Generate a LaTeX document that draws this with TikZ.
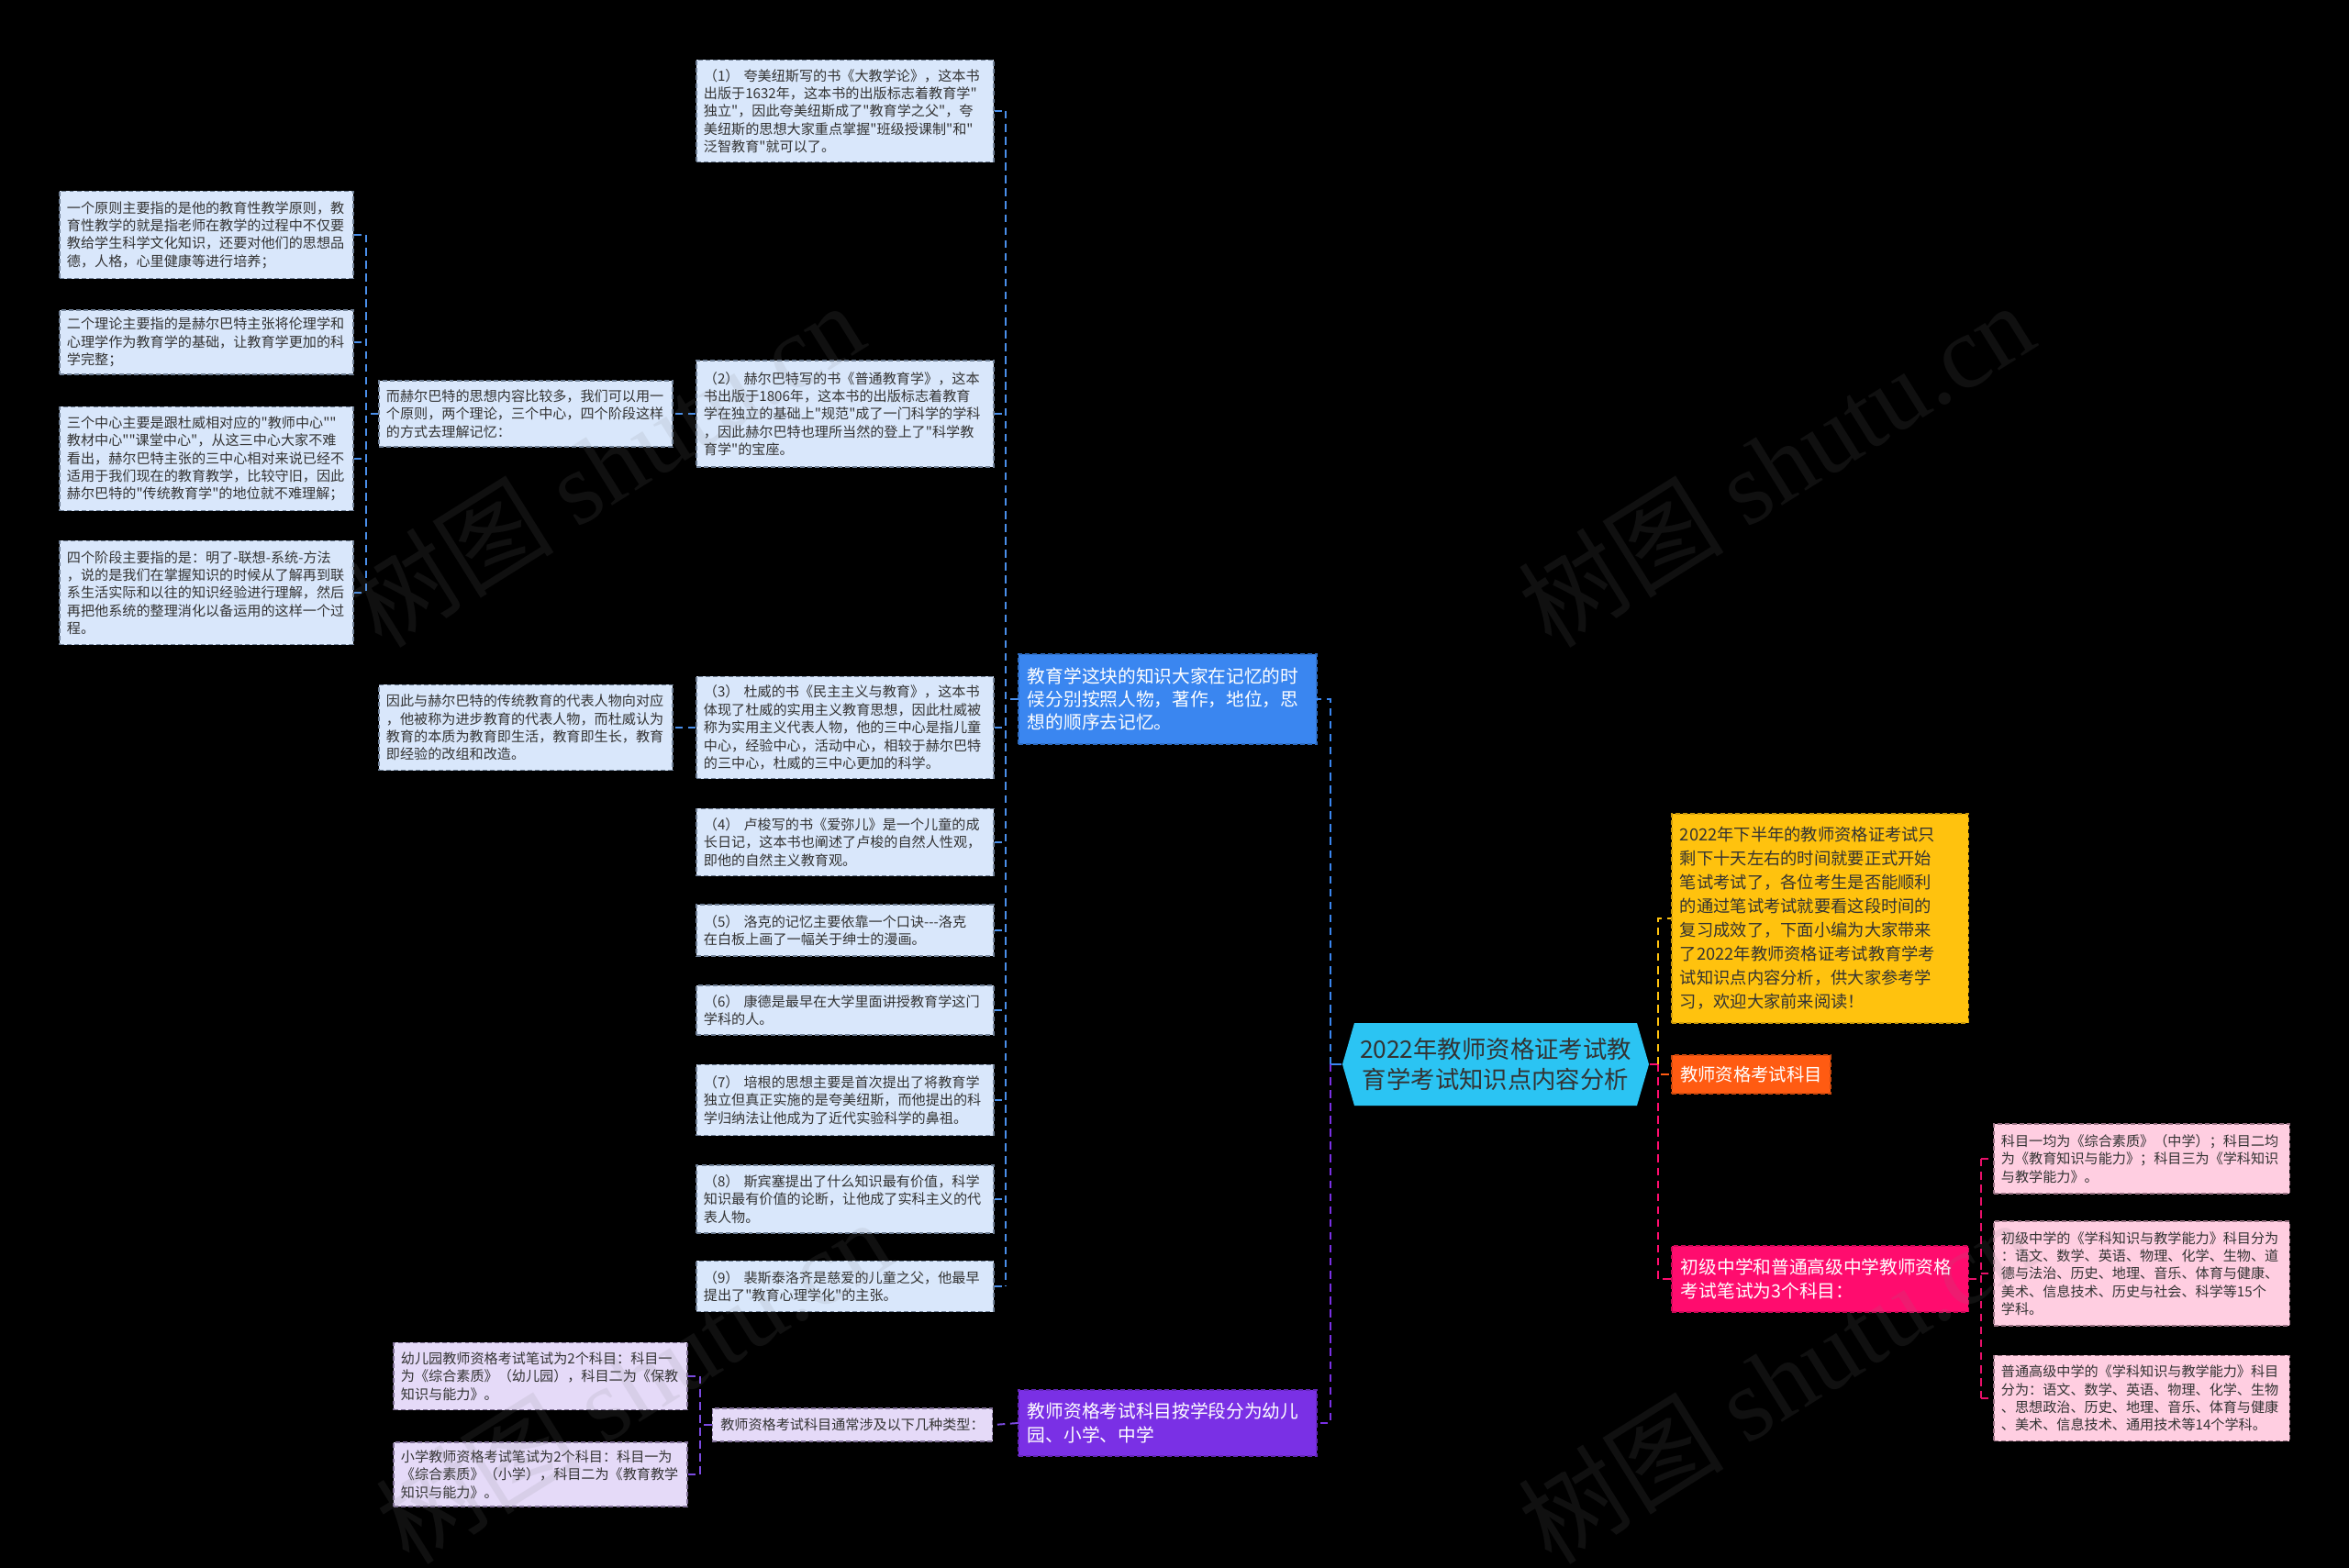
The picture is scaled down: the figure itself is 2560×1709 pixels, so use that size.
\documentclass[tikz,border=0pt]{standalone}
\usepackage{fontspec}
\setmainfont{Noto Sans CJK SC}[Ligatures=TeXOff]
\newfontfamily\wmfont{Liberation Serif}
\definecolor{ink}{HTML}{333333}
\definecolor{rootc}{HTML}{2BC4F3}
\definecolor{bluec}{HTML}{3A86F0}
\definecolor{purpc}{HTML}{7A30E5}
\definecolor{yelc}{HTML}{FFC20E}
\definecolor{orgc}{HTML}{FF5B12}
\definecolor{magc}{HTML}{FF0C6E}
\definecolor{paleb}{HTML}{D9E7FB}
\definecolor{palep}{HTML}{E5DAF8}
\definecolor{palek}{HTML}{FFCEE1}
\definecolor{edgeb}{HTML}{6F7F95}
\definecolor{edgep}{HTML}{7F6F95}
\definecolor{edgek}{HTML}{956F80}
\definecolor{lineb}{HTML}{4A8FEA}
\definecolor{linep}{HTML}{7B4AE0}
\definecolor{linek}{HTML}{E8106A}
\begin{document}
\begin{tikzpicture}[x=.01cm,y=-.01cm,
 leaf/.style={draw=#1,dash pattern=on 1.4pt off .9pt,line width=.35pt,align=left,text=ink,inner xsep=.08cm,inner ysep=0pt,text width=3.04cm,font=\fontsize{4.3}{5.5}\selectfont},
 lb/.style={leaf=edgeb,fill=paleb},
 lp/.style={leaf=edgep,fill=palep},
 lk/.style={leaf=edgek,fill=palek,text width=3.06cm},
 main/.style={draw=#1!80!black,fill=#1,dash pattern=on 1.4pt off .9pt,line width=.35pt,align=left,text=white,inner xsep=.1cm,inner ysep=0pt,font=\fontsize{5.6}{7.2}\selectfont},
 lnk/.style={draw=#1,line width=.55pt,dash pattern=on 2.4pt off 1.6pt},
 wm/.style={text=gray,text opacity=.13,font=\fontsize{32}{34}\selectfont,rotate=32}]
\path[use as bounding box,fill=black] (0,0) rectangle (2560,1709);
% root
\fill[rootc] (1463,1160)--(1476,1115)--(1784,1115)--(1797,1160)--(1784,1205)--(1476,1205)--cycle;
\node[align=center,text=ink,minimum width=3.34cm,minimum height=.9cm,inner sep=0pt,font=\fontsize{7.5}{9.2}\selectfont] (rt) at (1630,1160) {2022年教师资格证考试教\\育学考试知识点内容分析};
% right branch
\node[main=yelc,text=ink,text width=3.05cm,inner xsep=.09cm,minimum height=2.28cm,font=\fontsize{5.2}{7.4}\selectfont] (yl) at (1983.5,1001) {2022年下半年的教师资格证考试只\\剩下十天左右的时间就要正式开始\\笔试考试了，各位考生是否能顺利\\的通过笔试考试就要看这段时间的\\复习成效了，下面小编为大家带来\\了2022年教师资格证考试教育学考\\试知识点内容分析，供大家参考学\\习，欢迎大家前来阅读！};
\node[main=orgc,minimum width=1.73cm,minimum height=.42cm,inner xsep=.08cm,font=\fontsize{5.5}{7}\selectfont] (og) at (1908.5,1171) {教师资格考试科目};
\node[main=magc,text width=3.03cm,minimum height=.72cm] (mg) at (1983.5,1394) {初级中学和普通高级中学教师资格\\考试笔试为3个科目：};
\node[lk,minimum height=.76cm] (p1) at (2334,1263) {科目一均为《综合素质》（中学）；科目二均\\为《教育知识与能力》；科目三为《学科知识\\与教学能力》。};
\node[lk,minimum height=1.14cm] (p2) at (2334,1388) {初级中学的《学科知识与教学能力》科目分为\\：语文、数学、英语、物理、化学、生物、道\\德与法治、历史、地理、音乐、体育与健康、\\美术、信息技术、历史与社会、科学等15个\\学科。};
\node[lk,minimum height=.93cm] (p3) at (2334,1524) {普通高级中学的《学科知识与教学能力》科目\\分为：语文、数学、英语、物理、化学、生物\\、思想政治、历史、地理、音乐、体育与健康\\、美术、信息技术、通用技术等14个学科。};
% left branch
\node[main=bluec,text width=3.05cm,minimum height=.98cm] (bb) at (1272.5,762) {教育学这块的知识大家在记忆的时\\候分别按照人物，著作，地位，思\\想的顺序去记忆。};
\node[main=purpc,text width=3.05cm,minimum height=.72cm] (pp) at (1272.5,1551) {教师资格考试科目按学段分为幼儿\\园、小学、中学};
\node[lb,text width=3.08cm,minimum height=1.11cm] (n1) at (921,121) {（1） 夸美纽斯写的书《大教学论》，这本书\\出版于1632年，这本书的出版标志着教育学"\\独立"，因此夸美纽斯成了"教育学之父"，夸\\美纽斯的思想大家重点掌握"班级授课制"和"\\泛智教育"就可以了。};
\node[lb,text width=3.08cm,minimum height=1.16cm] (n2) at (921,451) {（2） 赫尔巴特写的书《普通教育学》，这本\\书出版于1806年，这本书的出版标志着教育\\学在独立的基础上"规范"成了一门科学的学科\\，因此赫尔巴特也理所当然的登上了"科学教\\育学"的宝座。};
\node[lb,text width=3.08cm,minimum height=1.11cm] (n3) at (921,793) {（3） 杜威的书《民主主义与教育》，这本书\\体现了杜威的实用主义教育思想，因此杜威被\\称为实用主义代表人物，他的三中心是指儿童\\中心，经验中心，活动中心，相较于赫尔巴特\\的三中心，杜威的三中心更加的科学。};
\node[lb,text width=3.08cm,minimum height=.73cm] (n4) at (921,918) {（4） 卢梭写的书《爱弥儿》是一个儿童的成\\长日记，这本书也阐述了卢梭的自然人性观，\\即他的自然主义教育观。};
\node[lb,text width=3.08cm,minimum height=.56cm] (n5) at (921,1014) {（5） 洛克的记忆主要依靠一个口诀---洛克\\在白板上画了一幅关于绅士的漫画。};
\node[lb,text width=3.08cm,minimum height=.54cm] (n6) at (921,1101) {（6） 康德是最早在大学里面讲授教育学这门\\学科的人。};
\node[lb,text width=3.08cm,minimum height=.77cm] (n7) at (921,1199) {（7） 培根的思想主要是首次提出了将教育学\\独立但真正实施的是夸美纽斯，而他提出的科\\学归纳法让他成为了近代实验科学的鼻祖。};
\node[lb,text width=3.08cm,minimum height=.74cm] (n8) at (921,1307) {（8） 斯宾塞提出了什么知识最有价值，科学\\知识最有价值的论断，让他成了实科主义的代\\表人物。};
\node[lb,text width=3.08cm,minimum height=.55cm] (n9) at (921,1402) {（9） 裴斯泰洛齐是慈爱的儿童之父，他最早\\提出了"教育心理学化"的主张。};
\node[lb,minimum height=.72cm] (hb) at (573,451) {而赫尔巴特的思想内容比较多，我们可以用一\\个原则，两个理论，三个中心，四个阶段这样\\的方式去理解记忆：};
\node[lb,minimum height=.95cm] (l1) at (225,256) {一个原则主要指的是他的教育性教学原则，教\\育性教学的就是指老师在教学的过程中不仅要\\教给学生科学文化知识，还要对他们的思想品\\德，人格，心里健康等进行培养；};
\node[lb,minimum height=.7cm] (l2) at (225,373) {二个理论主要指的是赫尔巴特主张将伦理学和\\心理学作为教育学的基础，让教育学更加的科\\学完整；};
\node[lb,minimum height=1.13cm] (l3) at (225,500) {三个中心主要是跟杜威相对应的"教师中心""\\教材中心""课堂中心"，从这三中心大家不难\\看出，赫尔巴特主张的三中心相对来说已经不\\适用于我们现在的教育教学，比较守旧，因此\\赫尔巴特的"传统教育学"的地位就不难理解；};
\node[lb,minimum height=1.13cm] (l4) at (225,646) {四个阶段主要指的是：明了-联想-系统-方法\\，说的是我们在掌握知识的时候从了解再到联\\系生活实际和以往的知识经验进行理解，然后\\再把他系统的整理消化以备运用的这样一个过\\程。};
\node[lb,minimum height=.93cm] (dw) at (573,793) {因此与赫尔巴特的传统教育的代表人物向对应\\，他被称为进步教育的代表人物，而杜威认为\\教育的本质为教育即生活，教育即生长，教育\\即经验的改组和改造。};
\node[lp,align=center,text width=,minimum width=3.05cm,minimum height=.36cm] (tt) at (929,1553) {教师资格考试科目通常涉及以下几种类型：};
\node[lp,minimum height=.73cm] (k1) at (589,1500) {幼儿园教师资格考试笔试为2个科目：科目一\\为《综合素质》（幼儿园），科目二为《保教\\知识与能力》。};
\node[lp,minimum height=.7cm] (k2) at (589,1607) {小学教师资格考试笔试为2个科目：科目一为\\《综合素质》（小学），科目二为《教育教学\\知识与能力》。};
% links right
\coordinate (rj) at (1807,1160);
\draw[magc,line width=.7pt] (rt.east)--(rj);
\draw[lnk=yelc] (rj) |- (yl.west);\draw[lnk=orgc] (rj) |- (og.west);\draw[lnk=magc] (rj) |- (mg.west);
\coordinate (mj) at (2159,1394);
\draw[lnk=linek] (mg.east)--(mj);\draw[lnk=linek] (mj |- p1.west)--(mj |- p3.west);
\draw[lnk=linek] (mj |- p1.west)--(p1.west);\draw[lnk=linek] (mj |- p2.west)--(p2.west);\draw[lnk=linek] (mj |- p3.west)--(p3.west);
% links left
\coordinate (lj) at (1450,1160);
\draw[bluec,line width=.7pt] (rt.west)--(lj);
\draw[lnk=bluec] (lj) |- (bb.west);\draw[lnk=purpc] (lj) |- (pp.west);
\coordinate (bj) at (1096,762);
\draw[lnk=lineb] (bb.west)--(bj);\draw[lnk=lineb] (bj |- n1.east)--(bj |- n9.east);
\draw[lnk=lineb] (n1.east)--(bj |- n1.east);\draw[lnk=lineb] (n2.east)--(bj |- n2.east);\draw[lnk=lineb] (n3.east)--(bj |- n3.east);
\draw[lnk=lineb] (n4.east)--(bj |- n4.east);\draw[lnk=lineb] (n5.east)--(bj |- n5.east);\draw[lnk=lineb] (n6.east)--(bj |- n6.east);
\draw[lnk=lineb] (n7.east)--(bj |- n7.east);\draw[lnk=lineb] (n8.east)--(bj |- n8.east);\draw[lnk=lineb] (n9.east)--(bj |- n9.east);
\draw[lnk=lineb] (n2.west)--(hb.east);\draw[lnk=lineb] (n3.west)--(dw.east);
\coordinate (hj) at (399,451);
\draw[lnk=lineb] (hb.west)--(hj);\draw[lnk=lineb] (hj |- l1.east)--(hj |- l4.east);
\draw[lnk=lineb] (l1.east)--(hj |- l1.east);\draw[lnk=lineb] (l2.east)--(hj |- l2.east);
\draw[lnk=lineb] (l3.east)--(hj |- l3.east);\draw[lnk=lineb] (l4.east)--(hj |- l4.east);
\draw[lnk=linep] (pp.west)--(tt.east);
\coordinate (tj) at (763,1553);
\draw[lnk=linep] (tt.west)--(tj);\draw[lnk=linep] (tj |- k1.east)--(tj |- k2.east);
\draw[lnk=linep] (k1.east)--(tj |- k1.east);\draw[lnk=linep] (k2.east)--(tj |- k2.east);
% watermarks
\node[wm] (w1) at (660,506) {树图 {\wmfont shutu.cn}};\node[wm] (w2) at (1935,506) {树图 {\wmfont shutu.cn}};
\node[wm] (w3) at (690,1505) {树图 {\wmfont shutu.cn}};\node[wm] (w4) at (1935,1505) {树图 {\wmfont shutu.cn}};
\end{tikzpicture}
\end{document}
